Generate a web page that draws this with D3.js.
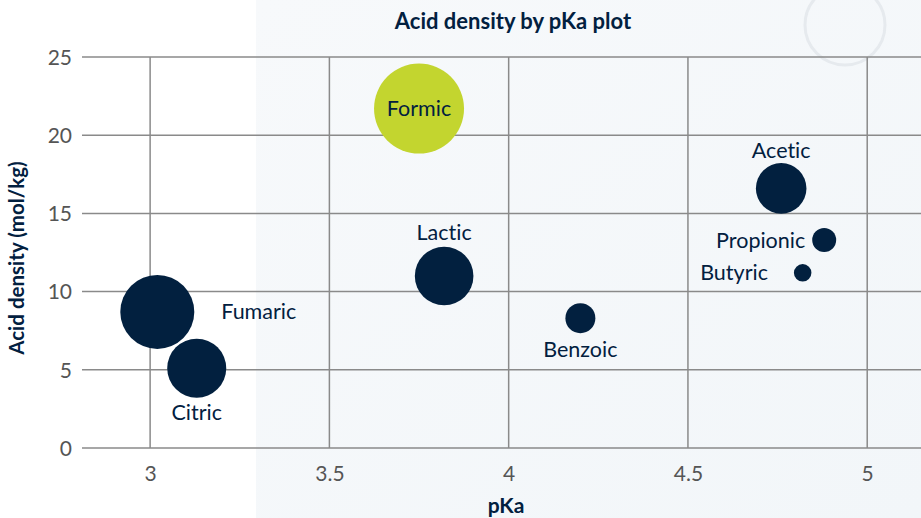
<html>
<head>
  <title>Acid density by pKa plot</title>
  <meta charset="utf-8" />
<script src="https://d3js.org/d3.v7.min.js"></script>
</head>
<style>
  body { margin: 0; }
  svg { display: block; font-family: Lato, "Open Sans", sans-serif; font-variant-ligatures: none; }
</style>
<body>
<svg class="main" width="921" height="518"></svg>
<script>

var acids   = ["Formic", "Acetic", "Propionic", "Butyric", "Benzoic", "Lactic", "Fumaric", "Citric"]
var pKa     = [3.75, 4.76, 4.88, 4.82, 4.2, 3.82, 3.02, 3.13]
var density = [21.7, 16.6, 13.3, 11.2, 8.3, 11.0, 8.7, 5.1]
var bubble  = [100, 31.6, 7.1, 3.8, 11.1, 42.4, 67.6, 43]

var xTicks = [3, 3.5, 4, 4.5, 5]
var yTicks = [0, 5, 10, 15, 20, 25]

// where the label goes relative to its bubble, and the gap
var labelAt = {Formic: ["in", 0], Acetic: ["top", 5], Propionic: ["left", 7], Butyric: ["left", 26],
  Benzoic: ["bottom", 24], Lactic: ["top", 7], Fumaric: ["right", 27], Citric: ["bottom", 22]}

var data = acids.map(function (d, i) {
  return {name: d, x: pKa[i], y: density[i], s: bubble[i]}
})

var navy = "#02203f", lime = "#c3d52f"

var svg = d3.select("svg.main")

// background
var defs = svg.append("defs")
var grad = defs.append("linearGradient").attr("id", "bg").attr("x1", 0).attr("x2", 1).attr("y1", 0).attr("y2", 1)
grad.append("stop").attr("offset", "0%").attr("stop-color", "#f7f9fb")
grad.append("stop").attr("offset", "100%").attr("stop-color", "#f2f6f9")
svg.append("rect").attr("width", 921).attr("height", 518).attr("fill", "#ffffff")
svg.append("rect").attr("x", 256).attr("width", 665).attr("height", 518).attr("fill", "url(#bg)")
svg.append("circle").attr("cx", 845).attr("cy", 25).attr("r", 40)
  .attr("fill", "none").attr("stroke", "#e6eaee").attr("stroke-width", 3)

var x = d3.scaleLinear().domain([2.81, 5.15]).range([82, 921])
var y = d3.scaleLinear().domain([0, 25]).range([448, 57])
var r = d3.scaleSqrt().domain([0, 100]).range([0, 45])

// grid
svg.append("g").selectAll("line").data(yTicks).enter().append("line")
  .attr("x1", 82).attr("x2", 921)
  .attr("y1", function (d) { return y(d) }).attr("y2", function (d) { return y(d) })
  .attr("stroke", "#8a8a8a").attr("stroke-width", 1.5)
svg.append("g").selectAll("line").data(xTicks).enter().append("line")
  .attr("y1", y(0)).attr("y2", y(25))
  .attr("x1", function (d) { return x(d) }).attr("x2", function (d) { return x(d) })
  .attr("stroke", "#8a8a8a").attr("stroke-width", 1.5)

// axes (labels only)
var xAxis = svg.append("g").attr("transform", "translate(0," + (y(0) + 13) + ")")
  .call(d3.axisBottom(x).tickValues(xTicks).tickSize(0).tickFormat(d3.format("")))
var yAxis = svg.append("g").attr("transform", "translate(" + 75 + ",0)")
  .call(d3.axisLeft(y).tickValues(yTicks).tickSize(0))
;[xAxis, yAxis].forEach(function (a) {
  a.attr("font-size", 21).attr("font-family", null)
  a.select(".domain").remove()
  a.selectAll("text").attr("fill", "#555555")
})
yAxis.selectAll("text").attr("dy", "0.35em")
xAxis.selectAll("text").attr("dy", "0.8em")

// bubbles
var node = svg.append("g").selectAll("g.node").data(data).enter().append("g")
  .attr("class", "node")
  .attr("transform", function (d) { return "translate(" + x(d.x) + "," + y(d.y) + ")" })

node.append("circle")
  .attr("r", function (d) { return r(d.s) })
  .attr("fill", function (d) { return d.name == "Formic" ? lime : navy })

node.append("text")
  .text(function (d) { return d.name })
  .attr("fill", navy)
  .attr("font-size", 21.5)
  .attr("text-anchor", function (d) {
    var p = labelAt[d.name][0]
    return p == "left" ? "end" : p == "right" ? "start" : "middle"
  })
  .attr("x", function (d) {
    var p = labelAt[d.name]
    if (p[0] == "left") return -r(d.s) - p[1]
    if (p[0] == "right") return r(d.s) + p[1]
    return 0
  })
  .attr("y", function (d) {
    var p = labelAt[d.name]
    if (p[0] == "top") return -r(d.s) - p[1]
    if (p[0] == "bottom") return r(d.s) + p[1]
    return 0
  })
  .attr("dy", function (d) {
    var p = labelAt[d.name][0]
    return (p == "top" || p == "bottom") ? "0" : "0.35em"
  })

// titles
svg.append("text").attr("x", 513).attr("y", 29).attr("text-anchor", "middle")
  .attr("fill", navy).attr("font-size", 22).attr("font-weight", 700)
  .text("Acid density by pKa plot")
svg.append("text").attr("x", 506).attr("y", 513).attr("text-anchor", "middle")
  .attr("fill", navy).attr("font-size", 21).attr("font-weight", 700)
  .text("pKa")
svg.append("text").attr("transform", "translate(24,258) rotate(-90)").attr("text-anchor", "middle")
  .attr("fill", navy).attr("font-size", 20.5).attr("font-weight", 700)
  .text("Acid density (mol/kg)")

</script>
</body>
</html>
